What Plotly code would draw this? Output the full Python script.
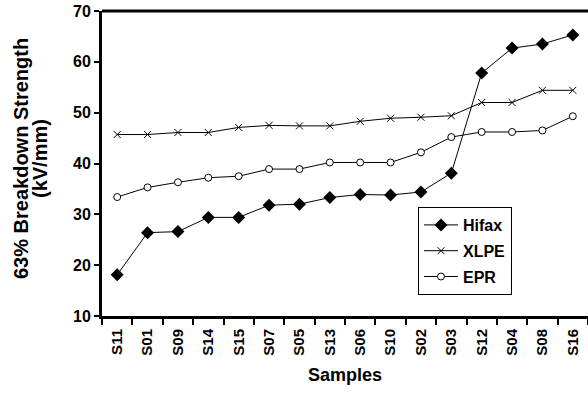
import plotly.graph_objects as go

samples = ["S11", "S01", "S09", "S14", "S15", "S07", "S05", "S13", "S06", "S10",
           "S02", "S03", "S12", "S04", "S08", "S16"]
hifax = [18.1, 26.4, 26.6, 29.4, 29.4, 31.8, 32.0, 33.3, 33.9, 33.8, 34.4, 38.1, 57.8, 62.7, 63.5, 65.3]
xlpe = [45.7, 45.7, 46.1, 46.1, 47.1, 47.5, 47.4, 47.4, 48.3, 48.9, 49.1, 49.4, 52.0, 52.0, 54.4, 54.4]
epr = [33.4, 35.3, 36.3, 37.2, 37.5, 38.9, 38.9, 40.2, 40.2, 40.2, 42.2, 45.2, 46.2, 46.2, 46.5, 49.3]
yticks = [10, 20, 30, 40, 50, 60, 70]

FONT = "Liberation Sans, Arial, sans-serif"
L, R, T, B, W, H = 102, 0, 11, 78, 588, 394
PW, PH = W - L - R, H - T - B

fig = go.Figure()
fig.add_trace(go.Scatter(x=samples, y=hifax, name="<b>Hifax</b>", mode="lines+markers",
                         legendgroup="a",
                         line=dict(color="black", width=1),
                         marker=dict(symbol="diamond", size=10, color="black")))
fig.add_trace(go.Scatter(x=samples, y=xlpe, name="<b>XLPE</b>", mode="lines+markers",
                         legendgroup="b",
                         line=dict(color="black", width=1),
                         marker=dict(symbol="x-thin-open", size=7, color="black",
                                     line=dict(color="black", width=1))))
fig.add_trace(go.Scatter(x=samples, y=epr, name="<b>EPR</b>", mode="lines+markers",
                         legendgroup="c",
                         line=dict(color="black", width=1),
                         marker=dict(symbol="circle", size=7, color="white",
                                     line=dict(color="black", width=1))))

fig.update_layout(
    width=W, height=H, autosize=False,
    margin=dict(l=L, r=R, t=T, b=B, autoexpand=False),
    paper_bgcolor="white", plot_bgcolor="white",
    font=dict(family=FONT, color="black"),
    showlegend=True,
    legend=dict(x=(418 - L) / PW, y=(H - B - 207) / PH, xanchor="left", yanchor="top",
                bordercolor="black", borderwidth=1, bgcolor="white",
                font=dict(family=FONT, size=16, color="black"),
                tracegroupgap=2, itemwidth=34),
    xaxis=dict(
        automargin=False, range=[-0.5, 15.5],
        tickangle=-90, tickfont=dict(size=15),
        showline=True, linecolor="black", linewidth=3,
        ticks="outside", ticklen=6, tickwidth=2, tickcolor="black",
        tickson="boundaries", showgrid=False, zeroline=False,
        tickmode="array", tickvals=samples, ticklabelstandoff=4,
        ticktext=["<b>%s</b>" % s for s in samples],
    ),
    yaxis=dict(
        automargin=False,
        range=[10, 70], tickfont=dict(size=16),
        tickmode="array", tickvals=yticks,
        ticktext=["<b>%d</b>" % v for v in yticks],
        showline=True, linecolor="black", linewidth=3,
        ticks="outside", ticklen=5, tickwidth=2, tickcolor="black",
        showgrid=False, zeroline=False,
    ),
)
fig.add_shape(type="line", xref="paper", yref="paper", x0=0, x1=1, y0=1, y1=1,
              line=dict(color="black", width=3))
# axis titles
fig.add_annotation(text="<b>63% Breakdown Strength</b>", xref="paper", yref="paper",
                   x=(21 - L) / PW, y=(H - B - 159) / PH, textangle=-90, showarrow=False,
                   xanchor="center", yanchor="middle", font=dict(size=20))
fig.add_annotation(text="<b>(kV/mm)</b>", xref="paper", yref="paper",
                   x=(40 - L) / PW, y=(H - B - 159) / PH, textangle=-90, showarrow=False,
                   xanchor="center", yanchor="middle", font=dict(size=20))
fig.add_annotation(text="<b>Samples</b>", xref="paper", yref="paper",
                   x=(345 - L) / PW, y=(H - B - 375) / PH, showarrow=False,
                   xanchor="center", yanchor="middle", font=dict(size=18))

fig.write_html("out.html", config={"responsive": False},
               post_script="document.body.style.margin='0';document.body.style.overflow='hidden';document.documentElement.style.overflow='hidden';")
